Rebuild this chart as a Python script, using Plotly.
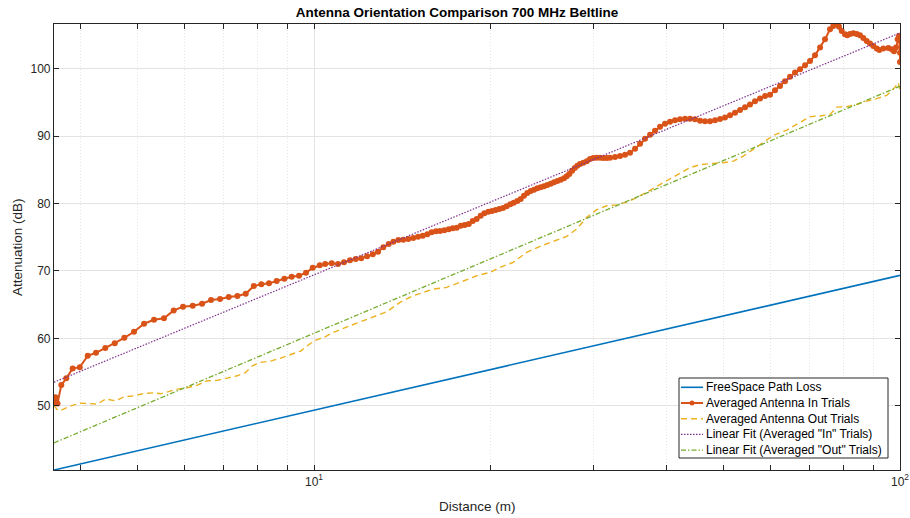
import plotly.graph_objects as go

# ---------------- data ----------------
fspl_x = [3.6, 100]
fspl_y = [40.48, 69.35]

fit_in_x = [3.6, 100]
fit_in_y = [53.5, 105.3]

fit_out_x = [3.6, 100]
fit_out_y = [44.5, 97.4]

in_x = [3.60, 3.62, 3.65, 3.705, 3.778, 3.874, 3.983, 4.110, 4.246, 4.404, 4.571, 4.746, 4.930,
        5.128, 5.333, 5.546, 5.762, 5.977, 6.209, 6.441, 6.672, 6.913, 7.153, 7.400, 7.647,
        7.892, 8.132, 8.380, 8.635, 8.900, 9.161, 9.428, 9.690, 9.950, 10.23,
        10.45, 10.72, 10.99, 11.25, 11.52, 11.78, 12.04, 12.32, 12.60, 12.86, 13.13, 13.41,
        13.66, 13.93, 14.20, 14.48, 14.77, 15.05, 15.33, 15.61, 15.88, 16.15, 16.41, 16.69,
        16.98, 17.25, 17.52, 17.80, 18.08, 18.37, 18.66, 18.95, 19.25, 19.53, 19.84, 20.13,
        20.42, 20.71, 21.02, 21.32, 21.63, 21.92, 22.23, 22.53, 22.82, 23.12, 23.43, 23.74,
        24.05, 24.37, 24.69, 25.01, 25.35, 25.68, 26.02, 26.37, 26.71, 26.99, 27.27, 27.57,
        27.86, 28.14, 28.44, 28.82, 29.21, 29.58, 29.97, 30.37, 30.77, 31.17, 31.59,
        32.00, 32.64, 33.29, 33.95, 34.62, 35.31, 36.01, 36.72, 37.45, 38.19, 38.95, 39.72,
        40.51, 41.31, 42.13, 42.97, 43.82, 44.69, 45.58, 46.48, 47.41, 48.35, 49.31, 50.28,
        51.28, 52.30, 53.34, 54.39, 55.47, 56.57, 57.70, 58.84, 60.01, 61.20, 62.41, 63.65,
        64.91, 66.20, 67.52, 68.86, 70.22, 71.61, 73.04, 74.48, 75.96, 76.95, 77.77, 78.70,
        79.54, 80.57, 81.31, 82.17, 83.25, 84.36, 85.46, 86.58, 87.74, 88.89, 90.05, 91.26,
        92.20, 93.66, 95.52, 96.81, 97.68, 98.45, 99.10, 99.61, 100.0, 100.0]
in_y = [50.50, 51.25, 50.36, 53.07, 54.07, 55.55, 55.70, 57.42, 57.86, 58.56, 59.26, 60.09, 60.98,
        62.17, 62.76, 62.97, 64.15, 64.69, 64.84, 65.13, 65.68, 65.83, 66.13, 66.28, 66.62,
        67.76, 68.01, 68.16, 68.50, 68.84, 69.14, 69.29, 69.73, 70.47, 70.83,
        71.02, 71.13, 71.02, 71.28, 71.57, 71.77, 71.87, 72.17, 72.46, 72.85, 73.50, 73.99,
        74.33, 74.58, 74.63, 74.73, 74.88, 75.07, 75.22, 75.43, 75.73, 75.88, 75.92, 76.02,
        76.17, 76.32, 76.41, 76.71, 76.81, 76.96, 77.40, 77.70, 78.19, 78.55, 78.78, 78.89,
        79.04, 79.18, 79.33, 79.58, 79.88, 80.12, 80.37, 80.67, 81.16, 81.56, 81.86, 82.05,
        82.26, 82.40, 82.55, 82.74, 82.94, 83.15, 83.34, 83.53, 83.74, 84.04, 84.38, 84.87,
        85.27, 85.61, 85.86, 86.05, 86.26, 86.60, 86.75, 86.80, 86.80, 86.75, 86.75,
        86.80, 86.88, 87.03, 87.24, 87.54, 88.13, 88.87, 89.61, 90.21, 90.80, 91.39, 91.84,
        92.14, 92.33, 92.48, 92.58, 92.58, 92.48, 92.28, 92.18, 92.18, 92.33, 92.52, 92.77,
        93.07, 93.47, 93.86, 94.26, 94.70, 95.15, 95.59, 95.93, 96.14, 96.78, 97.42, 98.12,
        98.81, 99.41, 99.90, 100.49, 101.13, 101.97, 103.12, 104.35, 105.83, 106.32, 106.57, 106.23,
        105.58, 105.09, 104.94, 105.13, 105.24, 105.13, 104.94, 104.54, 104.09, 103.71, 103.35, 102.97,
        102.76, 102.97, 103.06, 102.86, 102.57, 103.12, 104.35, 104.84, 102.37, 100.98]

out_x = [3.60, 3.638, 3.686, 3.745, 3.845, 3.998, 4.158, 4.268, 4.410, 4.588, 4.741, 4.930, 5.128,
         5.333, 5.475, 5.657, 5.845, 6.078, 6.322, 6.575, 6.839, 7.112, 7.397, 7.645, 7.847,
         8.110, 8.436, 8.775, 9.126, 9.492, 9.741, 10.00, 10.40, 10.79, 11.52, 12.30, 13.31,
         14.02, 14.77, 15.98, 16.84, 17.75, 18.95, 19.97, 20.77, 21.88, 23.07, 24.30, 25.61,
         27.00, 28.08, 29.20, 30.37, 31.59, 32.86, 34.17, 35.54, 37.45, 39.46, 41.59, 43.82,
         45.58, 48.02, 49.94, 51.95, 54.03, 56.20, 58.45, 60.79, 64.07, 67.52, 70.22, 73.04,
         75.96, 77.99, 81.11, 84.36, 87.74, 91.26, 94.92, 97.40, 99.33, 100.0]
out_y = [50.10, 49.50, 49.26, 49.50, 50.00, 50.40, 50.36, 50.25, 51.00, 50.74, 51.34, 51.48, 51.84,
         51.93, 51.78, 52.18, 52.48, 52.67, 53.07, 53.71, 53.77, 54.11, 54.45, 54.96, 55.93,
         56.44, 56.63, 57.08, 57.63, 58.12, 58.90, 59.64, 60.15, 60.89, 61.87, 62.86, 63.95,
         65.34, 66.32, 67.31, 67.57, 68.31, 69.29, 69.79, 70.53, 71.28, 72.76, 73.65, 74.33,
         75.13, 76.22, 77.95, 79.08, 79.67, 79.80, 80.21, 80.86, 81.94, 83.09, 84.21, 85.31,
         85.76, 85.95, 86.05, 86.29, 87.03, 88.03, 89.11, 90.10, 90.89, 92.00, 92.88, 92.97,
         93.22, 94.30, 94.36, 94.70, 95.19, 95.55, 96.04, 96.93, 97.92, 96.68]

x_range = [3.6, 100]
y_range = [40.48, 106.62]
y_ticks = [50, 60, 70, 80, 90, 100]
x_major = [10, 100]
x_major_text = ["10<sup>1</sup>", "10<sup>2</sup>"]
x_minor = [4, 5, 6, 7, 8, 9, 20, 30, 40, 50, 60, 70, 80, 90]

series_names = ["FreeSpace Path Loss", "Averaged Antenna In Trials", "Averaged Antenna Out Trials",
                'Linear Fit (Averaged "In" Trials)', 'Linear Fit (Averaged "Out" Trials)']
series_colors = ["#0072BD", "#D95319", "#EDB120", "#7E2F8E", "#77AC30"]
series_dash = ["solid", "solid", "6px,4px", "1.5px,1.5px", "5px,2px,1.5px,2px"]
series_width = [1.6, 2.0, 1.4, 1.2, 1.3]

# ---------------- figure ----------------
FONT = "Liberation Sans, Arial, Helvetica, sans-serif"
W, H = 910, 518
ML, MR, MT, MB = 54, 10, 24, 48
PW, PH = W - ML - MR, H - MT - MB


def px_x(p):
    return (p - ML) / PW


def px_y(p):
    return (H - MB - p) / PH


fig = go.Figure()
fig.add_trace(go.Scatter(x=fspl_x, y=fspl_y, mode="lines", name=series_names[0],
                         line=dict(color=series_colors[0], width=series_width[0])))
fig.add_trace(go.Scatter(x=in_x, y=in_y, mode="lines+markers", name=series_names[1],
                         line=dict(color=series_colors[1], width=series_width[1]),
                         marker=dict(color=series_colors[1], size=6, line=dict(width=0))))
fig.add_trace(go.Scatter(x=out_x, y=out_y, mode="lines", name=series_names[2],
                         line=dict(color=series_colors[2], width=series_width[2], dash=series_dash[2])))
fig.add_trace(go.Scatter(x=fit_in_x, y=fit_in_y, mode="lines", name=series_names[3],
                         line=dict(color=series_colors[3], width=series_width[3], dash=series_dash[3])))
fig.add_trace(go.Scatter(x=fit_out_x, y=fit_out_y, mode="lines", name=series_names[4],
                         line=dict(color=series_colors[4], width=series_width[4], dash=series_dash[4])))

axis_common = dict(
    showline=True, linecolor="#262626", linewidth=1.2, mirror="allticks",
    ticks="inside", tickcolor="#262626", ticklen=5, tickwidth=1,
    tickfont=dict(family=FONT, size=12, color="#262626"),
    showgrid=True, gridcolor="#E3E3E3", gridwidth=1, zeroline=False, automargin=False,
)

fig.update_xaxes(type="log", range=[0.55630, 2.0], tickmode="array",
                 tickvals=x_major, ticktext=x_major_text,
                 minor=dict(tickmode="array", tickvals=x_minor, ticks="inside", ticklen=5,
                            tickcolor="#262626", showgrid=True, gridcolor="#E6E6E6",
                            griddash="1px,2px", gridwidth=1),
                 **axis_common)
fig.update_yaxes(range=y_range, tickmode="array", tickvals=y_ticks, **axis_common)

annotations = [
    dict(text="Distance (m)", xref="paper", yref="paper", x=0.5, y=px_y(507),
         xanchor="center", yanchor="middle", showarrow=False,
         font=dict(family=FONT, size=13.5, color="#262626")),
    dict(text="Attenuation (dB)", xref="paper", yref="paper", x=px_x(17), y=px_y(247),
         xanchor="center", yanchor="middle", showarrow=False, textangle=-90,
         font=dict(family=FONT, size=13.5, color="#262626")),
]

# legend drawn as a boxed panel
shapes = [dict(type="rect", xref="paper", yref="paper",
               x0=px_x(679), x1=px_x(888), y0=px_y(458), y1=px_y(378),
               fillcolor="white", line=dict(color="#262626", width=1), layer="above")]
for i, (nm, col, dsh, wd) in enumerate(zip(series_names, series_colors, series_dash, series_width)):
    yc = 387.3 + 15.7 * i
    shapes.append(dict(type="line", xref="paper", yref="paper",
                       x0=px_x(681), x1=px_x(703), y0=px_y(yc), y1=px_y(yc),
                       line=dict(color=col, width=wd, dash=dsh), layer="above"))
    if i == 1:
        shapes.append(dict(type="circle", xref="paper", yref="paper",
                           x0=px_x(689.5), x1=px_x(694.5), y0=px_y(yc + 2.5), y1=px_y(yc - 2.5),
                           fillcolor=col, line=dict(color=col, width=0), layer="above"))
    annotations.append(dict(text=nm, xref="paper", yref="paper", x=px_x(704), y=px_y(yc),
                            xanchor="left", yanchor="middle", showarrow=False,
                            font=dict(family=FONT, size=12, color="black")))

fig.update_layout(
    width=W, height=H,
    margin=dict(l=ML, r=MR, t=MT, b=MB),
    paper_bgcolor="white", plot_bgcolor="white",
    title=dict(text="<b>Antenna Orientation Comparison 700 MHz Beltline</b>",
               x=457 / W, xref="container", xanchor="center", y=1 - 12 / H, yref="container",
               yanchor="middle", font=dict(family=FONT, size=13.5, color="black")),
    font=dict(family=FONT, size=11, color="black"),
    showlegend=False,
    shapes=shapes,
    annotations=annotations,
)

fig.write_html("out.html", config={"displayModeBar": False},
               post_script="document.body.style.margin='0';document.body.style.overflow='hidden';")
